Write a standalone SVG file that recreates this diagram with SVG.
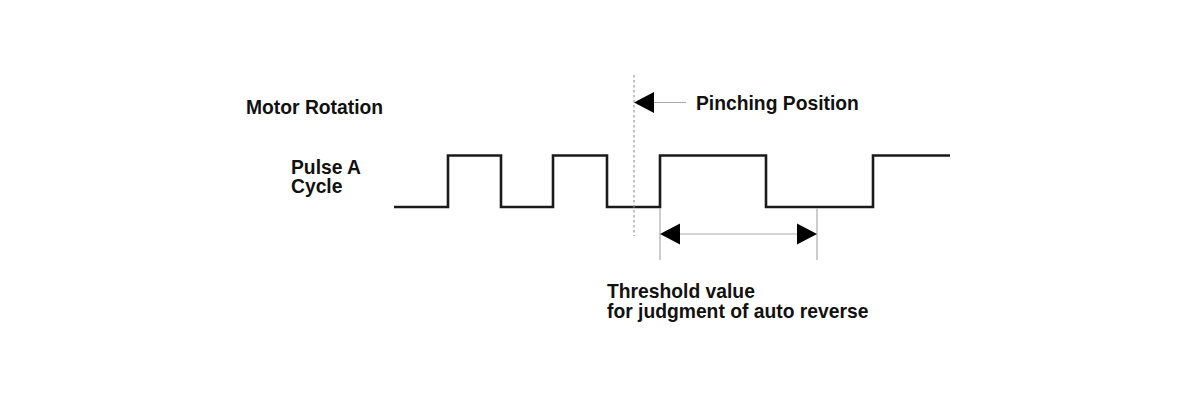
<svg xmlns="http://www.w3.org/2000/svg" width="1200" height="414" viewBox="0 0 1200 414">
<style>
text{font-family:"Liberation Sans",Arial,sans-serif;font-weight:bold;font-size:19.3px;fill:#111}
.wave{fill:none;stroke:#1a1a1a;stroke-width:2.6}
.thin{fill:none;stroke:#aaa;stroke-width:1.2}
.dot{fill:none;stroke:#999;stroke-width:1.2;stroke-dasharray:2.5 2.5}
.head{fill:#000}
</style>
<rect width="1200" height="414" fill="#fff"/>
<g id="labels">
<text x="246" y="114">Motor Rotation</text>
<text x="291" y="174">Pulse A</text>
<text x="291" y="193">Cycle</text>
<text x="696" y="110">Pinching Position</text>
<text x="607" y="298">Threshold value</text>
<text x="607" y="318">for judgment of auto reverse</text>
</g>
<g id="waveform">
<path class="wave" d="M394,207 H448 V155.5 H501 V207 H553 V155.5 H607 V207 H660 V155.5 H766 V207 H873 V155.5 H950"/>
</g>
<g id="connectors">
<line class="dot" x1="634" y1="75" x2="634" y2="236"/>
<line class="thin" x1="652" y1="102.5" x2="686" y2="102.5"/>
<polygon class="head" points="634,102.5 654,92 654,113"/>
<line class="thin" x1="660" y1="208" x2="660" y2="260"/>
<line class="thin" x1="817" y1="208" x2="817" y2="260"/>
<line class="thin" x1="678" y1="234" x2="799" y2="234"/>
<polygon class="head" points="660,234 680,223.5 680,244.5"/>
<polygon class="head" points="817,234 797,223.5 797,244.5"/>
</g>
</svg>
